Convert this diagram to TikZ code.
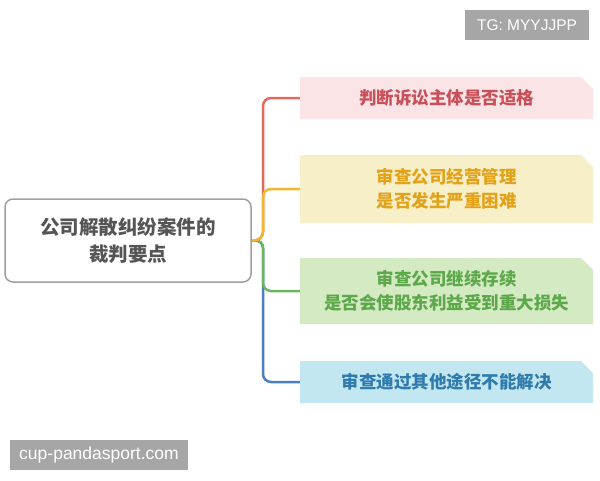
\documentclass[tikz,border=0pt]{standalone}
\usepackage{fontspec}
\setmainfont{Noto Sans CJK SC}
\newfontfamily\wmfont{Liberation Sans}
\usetikzlibrary{shapes.misc}
\definecolor{redline}{HTML}{E06A5E}
\definecolor{redfill}{HTML}{FBE4E6}
\definecolor{redtext}{HTML}{C9505A}
\definecolor{yelline}{HTML}{F2B731}
\definecolor{yelfill}{HTML}{F6EFC8}
\definecolor{yeltext}{HTML}{E3A21A}
\definecolor{grnline}{HTML}{6CB65C}
\definecolor{grnfill}{HTML}{D3EAC3}
\definecolor{grntext}{HTML}{5DA84A}
\definecolor{bluline}{HTML}{4A7FC1}
\definecolor{blufill}{HTML}{C3E7F1}
\definecolor{blutext}{HTML}{2F7BAE}
\definecolor{rootedge}{HTML}{A0A0A0}
\definecolor{roottext}{HTML}{555555}
\definecolor{wmgray}{HTML}{A6A6A6}
\begin{document}
\begin{tikzpicture}[x=1pt,y=-1pt,
  rootbox/.style={draw=rootedge, line width=1.5pt, rounded corners=8pt, fill=white,
    minimum width=246pt, minimum height=83pt, inner sep=0pt, align=center,
    text=roottext, font=\bfseries\fontsize{19.5}{27}\selectfont},
  leafbox/.style={chamfered rectangle, chamfered rectangle corners=north east,
    chamfered rectangle xsep=6pt, chamfered rectangle ysep=6pt,
    minimum width=293pt, inner sep=0pt, align=center,
    font=\bfseries\fontsize{17.5}{24}\selectfont},
  branch/.style={line width=2.5pt, rounded corners=8pt},
  wmbox/.style={fill=wmgray, text=white, inner sep=0pt, font=\wmfont\fontsize{15.5}{18}\selectfont}
]
\useasboundingbox (0,0) rectangle (600,480);
\fill[white] (0,0) rectangle (600,480);

\node[rootbox] (root) at (128,240.5) {公司解散纠纷案件的\\裁判要点};

\node[leafbox, fill=redfill, text=redtext, minimum height=42pt] (b1) at (446.5,98) {判断诉讼主体是否适格};
\node[leafbox, fill=yelfill, text=yeltext, minimum height=68pt] (b2) at (446.5,189) {审查公司经营管理\\是否发生严重困难};
\node[leafbox, fill=grnfill, text=grntext, minimum height=66pt] (b3) at (446.5,291) {审查公司继续存续\\是否会使股东利益受到重大损失};
\node[leafbox, fill=blufill, text=blutext, minimum height=42pt] (b4) at (446.5,382) {审查通过其他途径不能解决};

\coordinate (sp) at (263,240);
\draw[branch, bluline] (root.east) -- (sp) |- (b4.west);
\draw[branch, grnline] (root.east) -- (sp) |- (b3.west);
\draw[branch, redline] (root.east) -- (sp) |- (b1.west);
\draw[branch, yelline] (root.east) -- (sp) |- (b2.west);

\node[wmbox, minimum width=124pt, minimum height=30pt] (tg) at (527,25) {TG: MYYJJPP};
\node[wmbox, minimum width=178pt, minimum height=30pt, font=\wmfont\fontsize{17.5}{20}\selectfont] (url) at (99,455) {cup-pandasport.com};
\end{tikzpicture}
\end{document}
